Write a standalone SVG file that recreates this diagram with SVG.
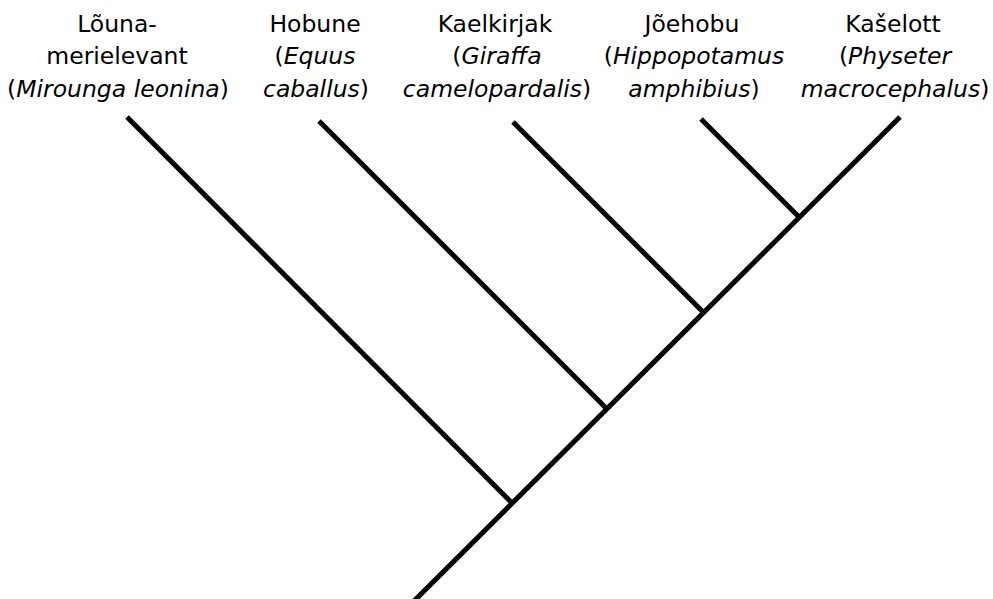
<svg xmlns="http://www.w3.org/2000/svg" width="993" height="599" viewBox="0 0 993 599">
<style>
text{font-family:"DejaVu Sans","Noto Sans",sans-serif;font-size:23.5px;fill:#000;text-anchor:middle}
.i{font-style:italic}
.e{stroke:#000;stroke-width:5;fill:none;stroke-linecap:butt}
</style>
<rect width="993" height="599" fill="#fff"/>
<g id="connectors">
<line class="e" x1="413" y1="602" x2="900" y2="117"/>
<line class="e" x1="127" y1="117" x2="511" y2="502"/>
<line class="e" x1="319" y1="121" x2="606" y2="408"/>
<line class="e" x1="513" y1="122" x2="702" y2="311"/>
<line class="e" x1="701" y1="119" x2="798" y2="216"/>
</g>
<g id="n1"><text x="117" y="32">Lõuna-</text><text x="117" y="64">merielevant</text><text x="118" y="97">(<tspan class="i">Mirounga leonina</tspan>)</text></g>
<g id="n2"><text x="315" y="32">Hobune</text><text x="315" y="64">(<tspan class="i">Equus</tspan></text><text x="316" y="97"><tspan class="i">caballus</tspan>)</text></g>
<g id="n3"><text x="495" y="32">Kaelkirjak</text><text x="497" y="64">(<tspan class="i">Giraffa</tspan></text><text x="497" y="97"><tspan class="i">camelopardalis</tspan>)</text></g>
<g id="n4"><text x="692" y="32">Jõehobu</text><text x="694" y="64">(<tspan class="i">Hippopotamus</tspan></text><text x="694" y="97"><tspan class="i">amphibius</tspan>)</text></g>
<g id="n5"><text x="893" y="32">Kašelott</text><text x="895" y="64">(<tspan class="i">Physeter</tspan></text><text x="895" y="97"><tspan class="i">macrocephalus</tspan>)</text></g>
</svg>
